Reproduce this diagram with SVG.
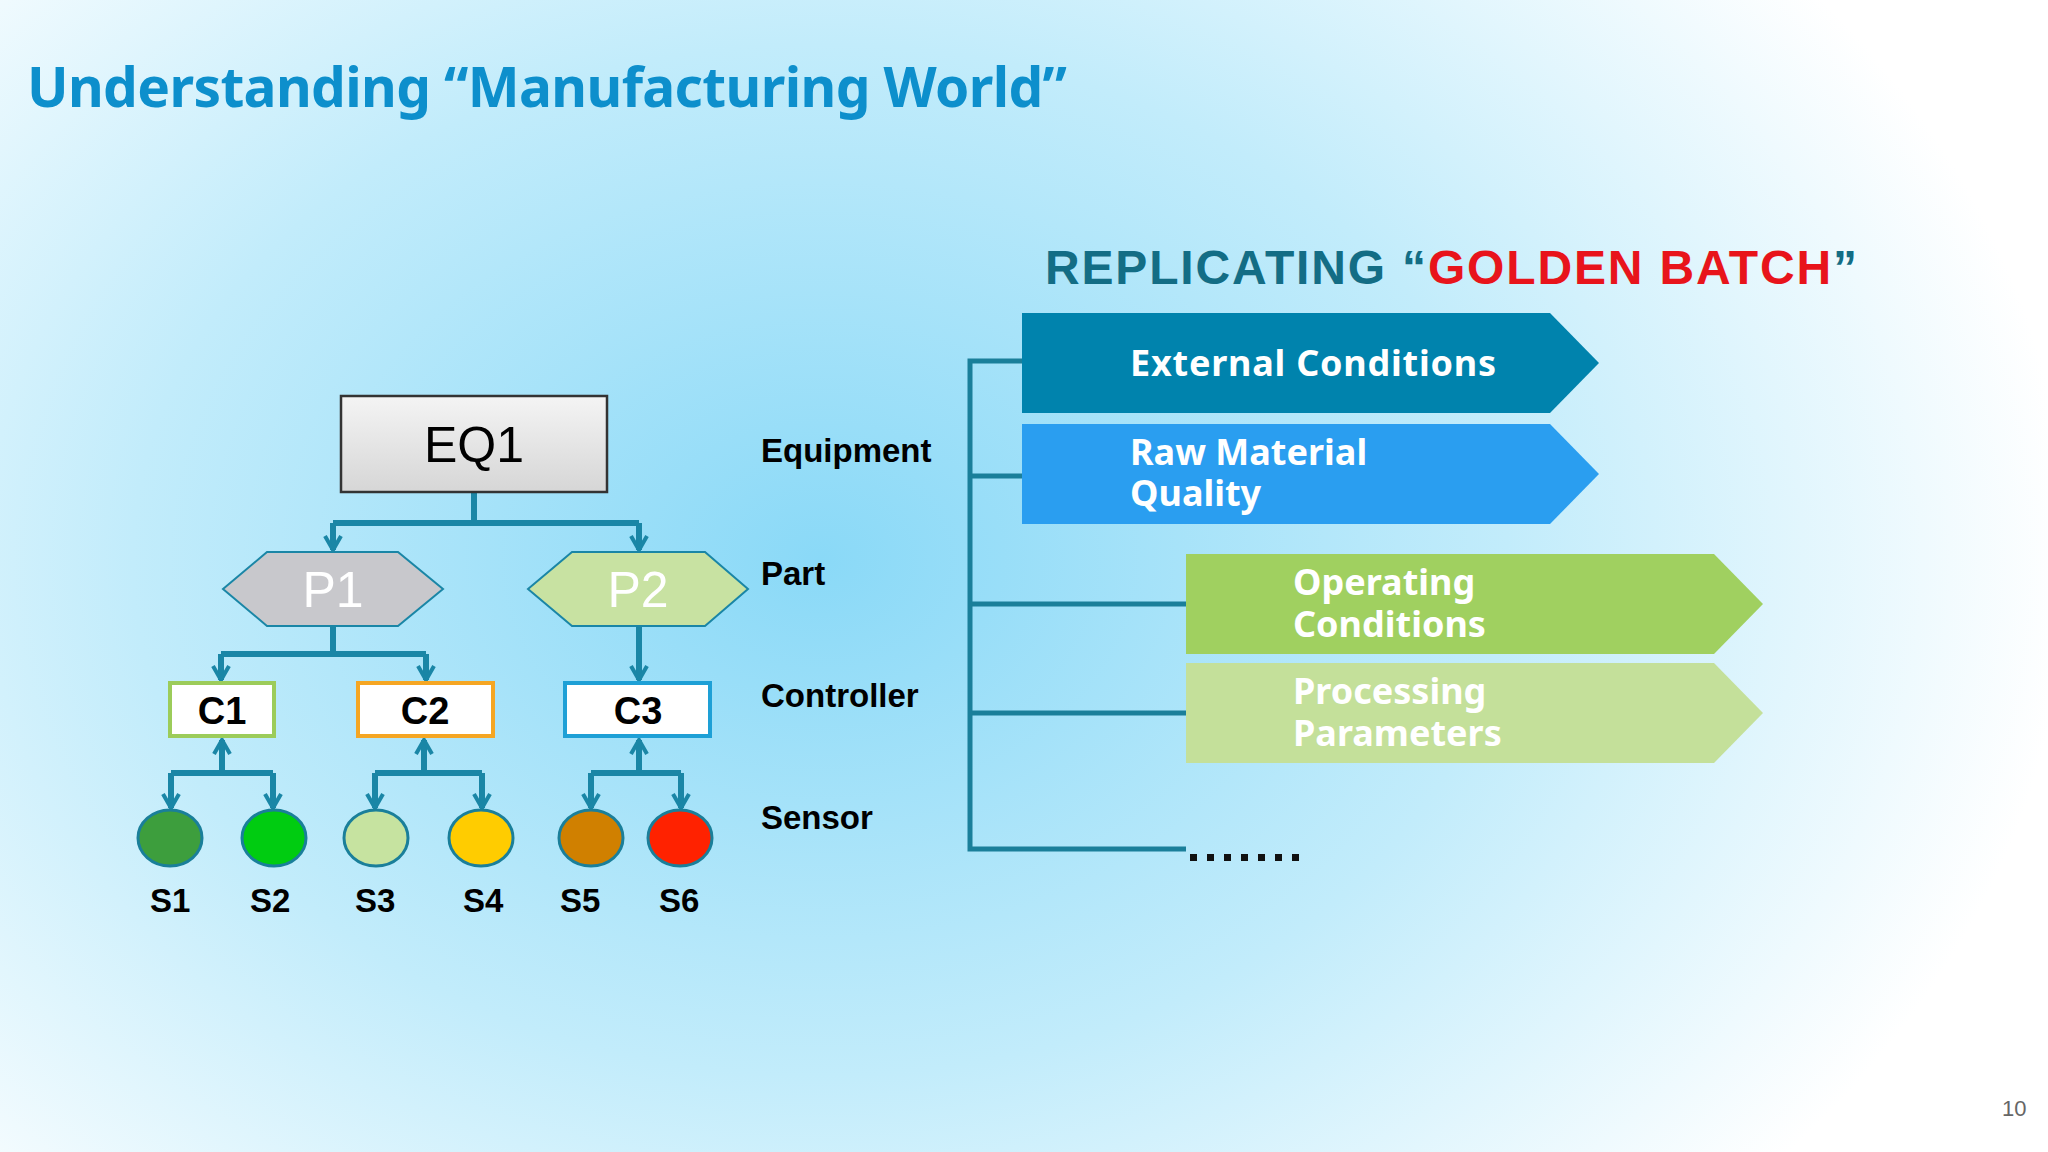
<svg xmlns="http://www.w3.org/2000/svg" width="2048" height="1152" viewBox="0 0 2048 1152">
<defs>
<radialGradient id="bg" cx="820" cy="560" r="1250" gradientUnits="userSpaceOnUse" gradientTransform="translate(820 560) scale(1 0.75) translate(-820 -560)">
<stop offset="0" stop-color="#8ad9f7"/><stop offset="0.55" stop-color="#c2ecfb"/><stop offset="1" stop-color="#ffffff"/>
</radialGradient>
<linearGradient id="eqg" x1="0" y1="0" x2="0" y2="1"><stop offset="0" stop-color="#f4f4f4"/><stop offset="1" stop-color="#d6d6d6"/></linearGradient>
<marker id="ah" viewBox="0 0 20 20" refX="17" refY="10" markerWidth="20" markerHeight="20" markerUnits="userSpaceOnUse" orient="auto">
<path d="M3,2 L17,10 L3,18" fill="none" stroke="#1a86a6" stroke-width="4"/>
</marker>
<style>
.ln{fill:none;stroke:#1a86a6;stroke-width:6}
.br{fill:none;stroke:#1a7f9a;stroke-width:5}
.lbl{font-family:"Liberation Sans",Arial,sans-serif;font-weight:bold;font-size:33px;fill:#000}
.ct{font-family:"Liberation Sans",Arial,sans-serif;font-weight:bold;font-size:38px;fill:#000;text-anchor:middle}
.pt{font-family:"Liberation Sans",Arial,sans-serif;font-size:50px;fill:#fff;text-anchor:middle}
.at{font-family:"Noto Sans","Liberation Sans",sans-serif;font-weight:bold;font-size:36px;fill:#fff}
.cir{stroke:#1a7f9a;stroke-width:3}
</style>
</defs>
<rect width="2048" height="1152" fill="url(#bg)"/>
<text x="27" y="107" font-family="'Noto Sans','Liberation Sans',sans-serif" font-weight="bold" font-size="55" fill="#0d8fcc" textLength="1040">Understanding “Manufacturing World”</text>
<text x="1045" y="284" font-family="'Liberation Sans',Arial,sans-serif" font-weight="bold" font-size="48" fill="#136d85" textLength="812">REPLICATING “<tspan fill="#e8141b">GOLDEN BATCH</tspan>”</text>

<g id="connectors">
<path class="ln" d="M474,492 V523 M333,523 H639"/>
<path class="ln" d="M333,523 V550" marker-end="url(#ah)"/>
<path class="ln" d="M639,523 V550" marker-end="url(#ah)"/>
<path class="ln" d="M333,626 V654 M221,654 H426"/>
<path class="ln" d="M221,654 V680" marker-end="url(#ah)"/>
<path class="ln" d="M426,654 V680" marker-end="url(#ah)"/>
<path class="ln" d="M639,626 V680" marker-end="url(#ah)"/>
<path class="ln" d="M222,773 V740" marker-end="url(#ah)"/>
<path class="ln" d="M171,773 H273"/>
<path class="ln" d="M171,773 V808" marker-end="url(#ah)"/>
<path class="ln" d="M273,773 V808" marker-end="url(#ah)"/>
<path class="ln" d="M424,773 V740" marker-end="url(#ah)"/>
<path class="ln" d="M375,773 H482"/>
<path class="ln" d="M375,773 V808" marker-end="url(#ah)"/>
<path class="ln" d="M482,773 V808" marker-end="url(#ah)"/>
<path class="ln" d="M639,773 V740" marker-end="url(#ah)"/>
<path class="ln" d="M591,773 V808" marker-end="url(#ah)"/>
<path class="ln" d="M591,773 H681"/>
<path class="ln" d="M681,773 V808" marker-end="url(#ah)"/>
<path class="br" d="M1022,361 H970 V849 H1186 M970,476 H1022 M970,604 H1186 M970,713 H1186"/>
</g>

<g id="EQ1"><rect x="341" y="396" width="266" height="96" fill="url(#eqg)" stroke="#333" stroke-width="2.5"/><text x="474" y="462" font-family="'Liberation Sans',Arial,sans-serif" font-size="50" text-anchor="middle">EQ1</text></g>
<g id="P1"><polygon points="223,589 267,552 398,552 443,589 398,626 267,626" fill="#c8c8cc" stroke="#1a86a6" stroke-width="2"/><text class="pt" x="333" y="607">P1</text></g>
<g id="P2"><polygon points="528,589 572,552 705,552 748,589 705,626 572,626" fill="#c8e2a2" stroke="#1a86a6" stroke-width="2"/><text class="pt" x="638" y="607">P2</text></g>
<g id="C1"><rect x="170" y="683" width="104" height="53" fill="#fff" stroke="#9ccc5a" stroke-width="4"/><text class="ct" x="222" y="724">C1</text></g>
<g id="C2"><rect x="358" y="683" width="135" height="53" fill="#fff" stroke="#f5a623" stroke-width="4"/><text class="ct" x="425" y="724">C2</text></g>
<g id="C3"><rect x="565" y="683" width="145" height="53" fill="#fff" stroke="#1ea0d6" stroke-width="4"/><text class="ct" x="638" y="724">C3</text></g>
<g id="S1"><ellipse class="cir" cx="170" cy="838" rx="32" ry="28" fill="#3d9e3d"/><text class="lbl" x="150" y="912">S1</text></g>
<g id="S2"><ellipse class="cir" cx="274" cy="838" rx="32" ry="28" fill="#00cc11"/><text class="lbl" x="250" y="912">S2</text></g>
<g id="S3"><ellipse class="cir" cx="376" cy="838" rx="32" ry="28" fill="#c6e3a0"/><text class="lbl" x="355" y="912">S3</text></g>
<g id="S4"><ellipse class="cir" cx="481" cy="838" rx="32" ry="28" fill="#ffcc00"/><text class="lbl" x="463" y="912">S4</text></g>
<g id="S5"><ellipse class="cir" cx="591" cy="838" rx="32" ry="28" fill="#d08000"/><text class="lbl" x="560" y="912">S5</text></g>
<g id="S6"><ellipse class="cir" cx="680" cy="838" rx="32" ry="28" fill="#ff2200"/><text class="lbl" x="659" y="912">S6</text></g>

<g id="levels">
<text class="lbl" x="761" y="462">Equipment</text>
<text class="lbl" x="761" y="585">Part</text>
<text class="lbl" x="761" y="707">Controller</text>
<text class="lbl" x="761" y="829">Sensor</text>
</g>

<g id="external"><polygon points="1022,313 1550,313 1599,363 1550,413 1022,413" fill="#0083ad"/><text class="at" x="1130" y="376" textLength="366">External Conditions</text></g>
<g id="raw"><polygon points="1022,424 1550,424 1599,474 1550,524 1022,524" fill="#2a9ef0"/><text class="at" x="1130" y="465">Raw Material</text><text class="at" x="1130" y="506">Quality</text></g>
<g id="operating"><polygon points="1186,554 1714,554 1763,604 1714,654 1186,654" fill="#a0d060"/><text class="at" x="1293" y="595">Operating</text><text class="at" x="1293" y="637">Conditions</text></g>
<g id="processing"><polygon points="1186,663 1714,663 1763,713 1714,763 1186,763" fill="#c4e09a"/><text class="at" x="1293" y="704">Processing</text><text class="at" x="1293" y="746">Parameters</text></g>
<g id="dots" fill="#111"><rect x="1190" y="854" width="7" height="7"/><rect x="1207" y="854" width="7" height="7"/><rect x="1224" y="854" width="7" height="7"/><rect x="1241" y="854" width="7" height="7"/><rect x="1258" y="854" width="7" height="7"/><rect x="1275" y="854" width="7" height="7"/><rect x="1292" y="854" width="7" height="7"/></g>
<text x="2002" y="1116" font-family="'Liberation Sans',sans-serif" font-size="22" fill="#666">10</text>
</svg>
